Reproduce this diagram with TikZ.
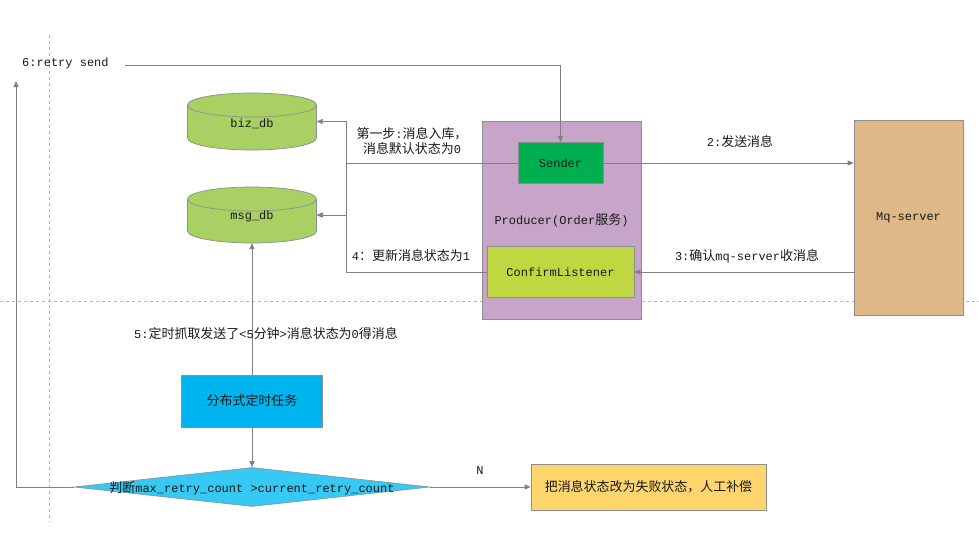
\documentclass[tikz,border=0pt]{standalone}
\usepackage{fontspec}
\setmainfont{Liberation Mono}
\newfontfamily\cjk{Noto Sans CJK SC}[Scale=1.08]
\usetikzlibrary{shapes.geometric,arrows.meta}
\newcommand\zh[1]{{\cjk #1}}
\definecolor{linegray}{HTML}{808080}
\definecolor{bordergray}{HTML}{8E8E8E}
\definecolor{dbgreen}{HTML}{A8D062}
\definecolor{sendgreen}{HTML}{00B050}
\definecolor{confgreen}{HTML}{C0D742}
\definecolor{prodpurple}{HTML}{C6A5C9}
\definecolor{mqtan}{HTML}{DEB887}
\definecolor{taskblue}{HTML}{00B4EF}
\definecolor{diablue}{HTML}{35C9F4}
\definecolor{failyellow}{HTML}{FFD56D}
\begin{document}
\begin{tikzpicture}[x=1pt,y=-1pt,
  every node/.style={font=\fontsize{12}{15}\selectfont, text=black!90},
  conn/.style={draw=linegray, line width=0.8pt},
  arr/.style={conn, -{Triangle[length=6pt,width=5pt]}},
  boxnode/.style={draw=bordergray, line width=0.8pt, inner sep=0pt, align=center},
  dbholder/.style={inner sep=0pt, minimum width=129pt},
  lbl/.style={inner sep=1pt, align=center}]
\fill[white] (0,0) rectangle (979,543);
\path[use as bounding box] (0,0) rectangle (979,543);
% guide lines
\draw[black!30, dashed, line width=0.6pt] (0,301) -- (979,301);
\draw[black!30, dashed, line width=0.6pt] (49,35) -- (49,522);
% databases
\node[dbholder, minimum height=57pt] (biz) at (252,121.5) {};
\node[dbholder, minimum height=56pt] (msg) at (252,215) {};
\foreach \t/\b in {105/138, 199/231}{
  \fill[dbgreen, draw=bordergray, line width=0.7pt] (252,\b) ellipse [x radius=64.5, y radius=12];
  \fill[dbgreen] (187.5,\t) rectangle (316.5,\b);
  \draw[bordergray, line width=0.7pt] (187.5,\t) -- (187.5,\b) (316.5,\t) -- (316.5,\b);
  \fill[dbgreen, draw=bordergray, line width=0.7pt] (252,\t) ellipse [x radius=64.5, y radius=12];
}
\node (biztxt) at (252,124) {biz\_db};
\node (msgtxt) at (252,216) {msg\_db};
% producer
\node[boxnode, fill=prodpurple, minimum width=159pt, minimum height=198pt] (prod) at (561.5,220) {Producer(Order\zh{服务})};
\node[boxnode, fill=sendgreen, minimum width=85pt, minimum height=41pt] (sender) at (560.5,163) {Sender};
\node[boxnode, fill=confgreen, minimum width=147pt, minimum height=51pt] (confirm) at (560.5,272) {ConfirmListener};
\node[boxnode, fill=mqtan, minimum width=109pt, minimum height=195pt] (mq) at (908.5,218) {Mq-server};
\node[boxnode, fill=taskblue, minimum width=141pt, minimum height=52pt] (task) at (252,401) {\zh{分布式定时任务}};
\node[draw=bordergray, line width=0.6pt, fill=diablue, shape=diamond, inner sep=0pt, minimum width=356pt, minimum height=39pt] (dia) at (252,487) {};
\node (diatxt) at (252,488) {\zh{判断}max\_retry\_count >current\_retry\_count};
\node[boxnode, fill=failyellow, minimum width=235pt, minimum height=46pt] (fail) at (648.5,487) {\zh{把消息状态改为失败状态，人工补偿}};
% coordinates
\coordinate (r0) at (125,65);
\coordinate (j1) at (346,163);
\coordinate (j2) at (346,272);
\coordinate (up) at (16,81);
% connectors
\draw[arr] (r0) -| (sender.north);
\draw[arr] (sender.west) -- (j1) |- (biz.east);
\draw[arr] (j1) |- (msg.east);
\draw[arr] (confirm.west) -- (j2) |- (msg.east);
\draw[arr] (sender.east) -- (sender.east -| mq.west);
\draw[arr] (mq.west |- confirm.east) -- (confirm.east);
\draw[arr] (task.north) -- (msg.south);
\draw[arr] (task.south) -- (dia.north);
\draw[arr] (dia.west) -| (up);
\draw[arr] (dia.east) -- (fail.west);
% labels
\node[lbl, anchor=west] (l6) at (21,63) {6:retry send};
\node[lbl] (l1) at (412,141) {\zh{第一步}:\zh{消息入库，}\\\zh{消息默认状态为}0};
\node[lbl] (l4) at (411,256) {4\zh{：更新消息状态为}1};
\node[lbl] (l2) at (740,142) {2:\zh{发送消息}};
\node[lbl] (l3) at (747,256) {3:\zh{确认}mq-server\zh{收消息}};
\node[lbl] (l5) at (266,334) {5:\zh{定时抓取发送了}<5\zh{分钟}>\zh{消息状态为}0\zh{得消息}};
\node[lbl] (ln) at (480,471) {N};
\end{tikzpicture}
\end{document}
